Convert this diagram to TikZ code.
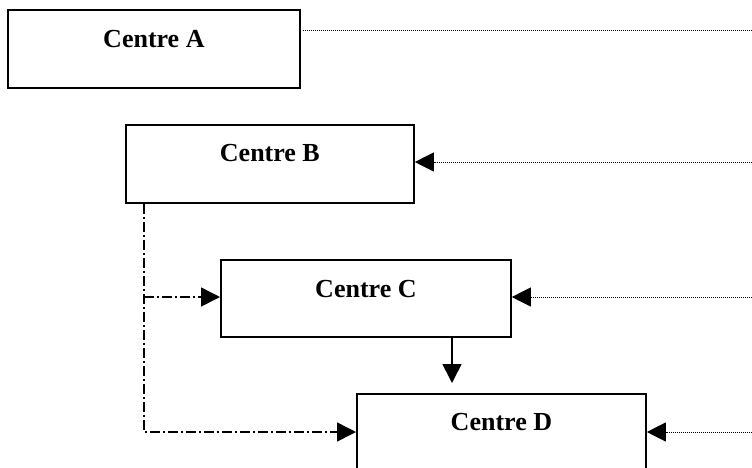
\documentclass[tikz,border=0pt]{standalone}
\usepackage{fontspec}
\setmainfont{Liberation Serif}
\usetikzlibrary{arrows.meta,calc}
\begin{document}
\begin{tikzpicture}[x=1pt,y=-1pt,
  box/.style={draw=black,line width=1.8pt,rectangle,anchor=north west,inner sep=0pt},
  lbl/.style={anchor=base,font=\fontsize{26}{30}\selectfont\bfseries},
  dotline/.style={line width=1pt,dash pattern=on 1pt off 1pt},
  dashdot/.style={line width=1.5pt,dash pattern=on 10pt off 3pt on 2pt off 3pt},
  tri/.style={-{Triangle[length=19pt,width=19pt]}},
  solidarrow/.style={line width=1.6pt,-{Triangle[length=19pt,width=19pt]}}
]
\clip (0,0) rectangle (752,467);
\fill[white] (0,0) rectangle (752,467);
% boxes
\node[box,minimum width=292pt,minimum height=78pt] (A) at (7,9) {};
\node[box,minimum width=288pt,minimum height=78pt] (B) at (125,124) {};
\node[box,minimum width=290pt,minimum height=77pt] (C) at (220,259) {};
\node[box,minimum width=289pt,minimum height=90pt] (D) at (356,393) {};
% labels
\node[lbl] (tA) at ($(A.north)+(0,38)$) {Centre A};
\node[lbl] (tB) at ($(B.north)+(0,37)$) {Centre B};
\node[lbl] (tC) at ($(C.north)+(0,38)$) {Centre C};
\node[lbl] (tD) at ($(D.north)+(0,37)$) {Centre D};
% free ends at right
\coordinate (eA) at (752,30);
\coordinate (eB) at (752,162);
\coordinate (eC) at (752,297);
\coordinate (eD) at (752,432);
% dotted lines
\draw[dotline] (A.east |- eA) ++(2,0) -- (eA);
\draw[dotline,tri] (eB) -- (B.east |- eB);
\draw[dotline,tri] (eC) -- (C.east |- eC);
\draw[dotline,tri] (eD) -- (D.east |- eD);
% dash-dot tree
\coordinate (bs) at ($(B.south west)+(19,0)$);
\coordinate (jC) at (bs |- eC);
\coordinate (jD) at (bs |- eD);
\draw[dashdot,tri] (bs) -- (jD) -- (D.west |- eD);
\draw[dashdot,tri] (jC) -- (C.west |- eC);
% solid arrow C -> D
\draw[solidarrow,shorten >=10pt] ($(C.south west)+(232,0)$) -- ($(D.north west)+(96,0)$);
\end{tikzpicture}
\end{document}
